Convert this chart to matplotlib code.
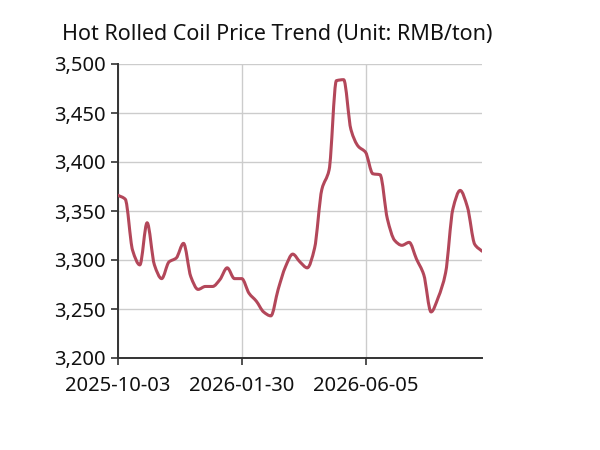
import numpy as np
import matplotlib
matplotlib.use("Agg")
import matplotlib.pyplot as plt
from matplotlib.path import Path
from matplotlib.patches import PathPatch

title = "Hot Rolled Coil Price Trend (Unit: RMB/ton)"
tick_labels = ["2025-10-03", "2026-01-30", "2026-06-05"]
tick_index = [0, 17, 34]
prices = [3366, 3362, 3310, 3295, 3338, 3295, 3281, 3298, 3302, 3317,
          3283, 3270, 3273, 3273, 3280, 3292, 3281, 3281, 3266, 3258,
          3247, 3243, 3270, 3293, 3306, 3298, 3292, 3312, 3372, 3392,
          3483, 3484, 3433, 3416, 3410, 3388, 3387, 3342, 3320, 3315,
          3318, 3301, 3285, 3247, 3262, 3287, 3352, 3371, 3354, 3316,
          3309]
y_ticks = [3200, 3250, 3300, 3350, 3400, 3450, 3500]

plt.rcParams['font.family'] = ['Noto Sans', 'DejaVu Sans']

fig = plt.figure(figsize=(6, 4.5), dpi=100)
ax = fig.add_axes([118/600, 1-358/450, 364/600, 294/450])

x = np.arange(len(prices), dtype=float)
y = np.array(prices, dtype=float)

# monotone cubic (Fritsch-Carlson) tangents for smooth drawing
h = np.diff(x)
d = np.diff(y) / h
m = np.zeros_like(y)
m[0] = d[0]
m[-1] = d[-1]
for i in range(1, len(y) - 1):
    if d[i-1] * d[i] <= 0:
        m[i] = 0
    else:
        m[i] = 2 / (1/d[i-1] + 1/d[i])
verts = [(x[0], y[0])]
codes = [Path.MOVETO]
for i in range(len(y) - 1):
    verts += [(x[i] + h[i]/3, y[i] + m[i]*h[i]/3),
              (x[i+1] - h[i]/3, y[i+1] - m[i+1]*h[i]/3),
              (x[i+1], y[i+1])]
    codes += [Path.CURVE4] * 3
ax.add_patch(PathPatch(Path(verts, codes), facecolor='none',
                       edgecolor='#b3475a', lw=2.2, capstyle='round',
                       joinstyle='round', zorder=3))

ax.set_xlim(0, len(prices) - 1)
ax.set_ylim(3200, 3500)
ax.set_yticks(y_ticks)
ax.set_yticklabels([f"{v:,}" for v in y_ticks])
ax.set_xticks(tick_index)
ax.set_xticklabels(tick_labels)

ax.grid(True, color='#cccccc', lw=1)
ax.set_axisbelow(True)
for s in ['top', 'right']:
    ax.spines[s].set_visible(False)
for s in ['left', 'bottom']:
    ax.spines[s].set_color('#333333')
    ax.spines[s].set_linewidth(1.4)
ax.tick_params(axis='both', length=5, width=1.2, color='#333333',
               labelsize=14.5, labelcolor='#111111')
ax.tick_params(axis='x', pad=8)
ax.tick_params(axis='y', pad=4)

fig.text(62/600, 1-40/450, title, fontsize=15.5, ha='left',
         va='baseline', color='#111111')

fig.savefig("out.png", dpi=100, facecolor='white')
